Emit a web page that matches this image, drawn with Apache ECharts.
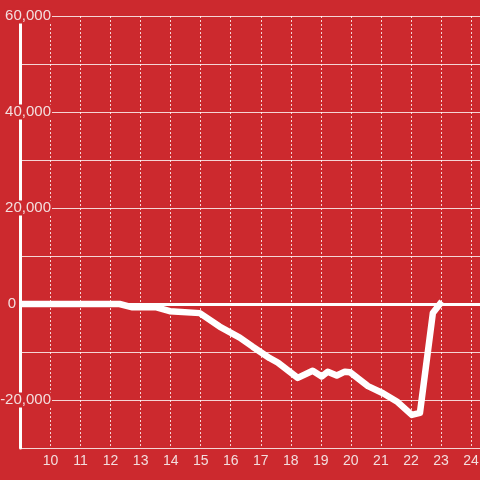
<!DOCTYPE html>
<html><head><meta charset="utf-8">
<script src="https://cdn.jsdelivr.net/npm/echarts@6/dist/echarts.min.js"></script>
<style>html,body{margin:0;padding:0;background:#cc292e}#c{width:480px;height:480px}</style>
</head><body><div id="c"></div>
<script>
var xValues = [9, 12.3, 12.73, 13.53, 13.97, 14.97, 15.63, 16.3, 16.73, 17.3, 17.57, 18.23, 18.73, 19.03, 19.23, 19.53, 19.8, 19.97, 20.57, 21.07, 21.53, 22.03, 22.3, 22.73, 23.03];
var yValues = [0, 0, -700, -700, -1500, -1900, -4700, -7000, -8900, -11300, -12200, -15400, -13900, -15100, -14100, -14900, -14100, -14200, -17100, -18600, -20300, -23100, -22700, -1900, 500];
var yTicks = [-20000, 0, 20000, 40000, 60000];

var bg = '#cc292e', txt = '#f3dede', grid = 'rgba(255,255,255,0.8)';
var data = xValues.map(function (x, i) { return [x, yValues[i]]; });
var chart = echarts.init(document.getElementById('c'));
chart.setOption({
  backgroundColor: bg,
  animation: false,
  textStyle: { fontFamily: 'Liberation Sans' },
  grid: { left: 20.5, right: 0, top: 16, bottom: 32, containLabel: false, outerBoundsMode: 'none' },
  xAxis: {
    type: 'value', min: 9, max: 24.3, interval: 1,
    axisLine: { show: true, lineStyle: { color: grid, width: 1 } },
    axisTick: { show: false },
    axisLabel: { color: txt, fontSize: 14, margin: 6, showMaxLabel: false,
      formatter: function (v) { return v < 10 ? '' : String(v); } },
    splitLine: { show: true, lineStyle: { color: grid, width: 1, type: [2, 2] } }
  },
  yAxis: {
    type: 'value', min: -30000, max: 60000, interval: 10000,
    axisLine: { show: true, lineStyle: { color: '#ffffff', width: 3 } },
    axisTick: { show: false },
    axisLabel: {
      color: txt, fontSize: 15, margin: -31.5, align: 'right',
      formatter: function (v) {
        if (yTicks.indexOf(v) < 0) return '';
        if (v === 0) return '{z|0}';
        return '{n|' + v.toLocaleString('en-US') + '}';
      },
      rich: {
        n: { color: txt, fontSize: 15, backgroundColor: bg, padding: [0, 1, 0, 1] },
        z: { color: txt, fontSize: 15, padding: [0, 36, 0, 0] }
      }
    },
    splitLine: { show: true, lineStyle: { color: grid, width: 1 } }
  },
  series: [{
    type: 'line', data: data, symbol: 'none',
    lineStyle: { color: '#ffffff', width: 6.5, join: 'round' },
    markLine: {
      silent: true, symbol: 'none', label: { show: false },
      lineStyle: { color: '#ffffff', width: 3, type: 'solid' },
      data: [{ yAxis: 0 }]
    }
  }]
});
</script></body></html>
